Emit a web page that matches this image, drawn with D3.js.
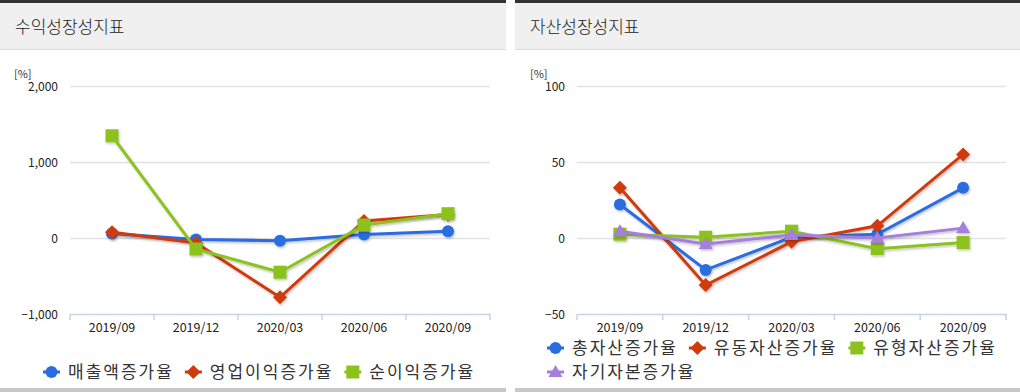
<!DOCTYPE html>
<html>
<head>
<meta charset="utf-8">
<script src="https://cdn.jsdelivr.net/npm/d3@7"></script>
<style>
	body { margin: 0; background: #fff; }
	svg { display: block; font-family: "Noto Sans CJK KR", "Noto Sans", sans-serif; }
</style>
</head>
<body>
<div id="chart"></div>
<script>
// ---- data ----
var periods = ["2019/09", "2019/12", "2020/03", "2020/06", "2020/09"];

var salesGrowth     = [60, -20, -35, 45, 90];
var opProfitGrowth  = [75, -65, -780, 225, 310];
var netProfitGrowth = [1345, -145, -450, 170, 320];
var profitTicks     = [-1000, 0, 1000, 2000];

var totalAssetGrowth    = [22, -21, 0.5, 2.5, 33];
var currentAssetGrowth  = [33, -31, -2.5, 8, 55];
var tangibleAssetGrowth = [2.5, 0.5, 4.5, -7, -3];
var equityGrowth        = [4.5, -4, 2, 0, 6.5];
var assetTicks          = [-50, 0, 50, 100];

var colors = {
	blue : "#2a6de0",
	red : "#d03b0b",
	green : "#8cc21e",
	purple : "#a47fdb"
};

var W = 1020, H = 392;
var svg = d3.select("#chart").append("svg")
	.attr("width", W)
	.attr("height", H);

var defs = svg.append("defs");
var f = defs.append("filter").attr("id", "shadow")
	.attr("x", "-10%").attr("y", "-10%").attr("width", "120%").attr("height", "130%");
f.append("feDropShadow").attr("dx", 1).attr("dy", 1.5).attr("stdDeviation", 1)
	.attr("flood-color", "#000").attr("flood-opacity", 0.25);

var drawMarker = function(g, type, x, y, color)
{
	if(type == "circle")
		g.append("circle").attr("cx", x).attr("cy", y).attr("r", 6).style("fill", color);
	else if(type == "square")
		g.append("rect").attr("x", x - 6.5).attr("y", y - 6.5).attr("width", 13).attr("height", 13).style("fill", color);
	else if(type == "diamond")
		g.append("path").attr("d", "M" + x + "," + (y - 7) + " L" + (x + 7) + "," + y + " L" + x + "," + (y + 7) + " L" + (x - 7) + "," + y + " Z").style("fill", color);
	else if(type == "triangle")
		g.append("path").attr("d", "M" + x + "," + (y - 7) + " L" + (x + 7) + "," + (y + 5) + " L" + (x - 7) + "," + (y + 5) + " Z").style("fill", color);
}

var drawPanel = function(params)
{
	var px = params.x, pw = params.width;
	var g = svg.append("g");

	// header
	g.append("rect").attr("x", px).attr("y", 0).attr("width", pw).attr("height", 3).style("fill", "#333");
	g.append("rect").attr("x", px).attr("y", 3).attr("width", pw).attr("height", 46).style("fill", "#f0f0f0");
	g.append("rect").attr("x", px).attr("y", 49).attr("width", pw).attr("height", 1).style("fill", "#dcdcdc");
	g.append("text")
		.attr("x", px + 15)
		.attr("y", 33)
		.style("font-size", "17px")
		.style("font-weight", 300)
		.style("fill", "#222")
		.text(params.title);

	// bottom bar
	g.append("rect").attr("x", px).attr("y", 388).attr("width", pw).attr("height", 4).style("fill", "#c8c8c8");

	var scaleX = d3.scaleBand().domain(periods).range([params.plotLeft, params.plotRight]).padding(0);
	var scaleY = d3.scaleLinear().domain(params.domain).range([314, 86]);

	g.append("text")
		.attr("x", px + params.unitX)
		.attr("y", 78)
		.style("font-size", "11px")
		.style("fill", "#333")
		.text("[%]");

	// grid
	g.selectAll(".grid").data(params.ticks.slice(1)).enter()
		.append("line")
		.attr("x1", params.plotLeft)
		.attr("x2", params.plotRight)
		.attr("y1", function(d){ return Math.round(scaleY(d)) + 0.5; })
		.attr("y2", function(d){ return Math.round(scaleY(d)) + 0.5; })
		.style("stroke", "#e2e2e2")
		.style("stroke-width", 1.5);

	g.selectAll(".ylabel").data(params.ticks).enter()
		.append("text")
		.attr("x", params.plotLeft - 12)
		.attr("y", function(d){ return scaleY(d) + 5; })
		.style("text-anchor", "end")
		.style("font-size", "12px")
		.style("fill", "#222")
		.text(function(d){ return d3.format(",")(d); });

	// x axis
	var axis = d3.axisBottom(scaleX).tickSize(0).tickPadding(9);
	var ax = g.append("g").attr("transform", "translate(0," + scaleY(params.domain[0]) + ")").call(axis);
	ax.select(".domain").style("stroke", "#c5d3e2").style("stroke-width", 1.5);
	ax.selectAll(".tick text")
		.style("font-family", "\"Noto Sans CJK KR\", sans-serif")
		.style("font-size", "12.5px")
		.style("fill", "#222");
	var bounds = periods.map(function(p){ return scaleX(p); }).concat([params.plotRight]);
	g.selectAll(".xtick").data(bounds).enter()
		.append("line")
		.attr("x1", function(d){ return d; })
		.attr("x2", function(d){ return d; })
		.attr("y1", scaleY(params.domain[0]))
		.attr("y2", scaleY(params.domain[0]) + 6)
		.style("stroke", "#c5d3e2")
		.style("stroke-width", 1.5);

	// series
	var line = d3.line()
		.x(function(d, i){ return scaleX(periods[i]) + scaleX.bandwidth() / 2; })
		.y(function(d){ return scaleY(d); });

	params.series.forEach(function(s){
		var sg = g.append("g").attr("filter", "url(#shadow)");
		sg.append("path")
			.attr("d", line(s.values))
			.style("fill", "none")
			.style("stroke", s.color)
			.style("stroke-width", 3);
		s.values.forEach(function(v, i){
			drawMarker(sg, s.marker, scaleX(periods[i]) + scaleX.bandwidth() / 2, scaleY(v), s.color);
		});
	});

	// legend
	var lx = px + params.legendX, ly = params.legendY;
	params.series.forEach(function(s){
		var textW = s.name.length * 17;
		if(lx + 25 + textW > px + pw - 5)
		{
			lx = px + params.legendX;
			ly += 24;
		}
		var lg = g.append("g");
		lg.append("line")
			.attr("x1", lx).attr("x2", lx + 17)
			.attr("y1", ly).attr("y2", ly)
			.style("stroke", s.color).style("stroke-width", 3);
		drawMarker(lg, s.marker, lx + 8.5, ly, s.color);
		var t = lg.append("text")
			.attr("x", lx + 25)
			.attr("y", ly + 6)
			.style("font-size", "17px")
			.style("letter-spacing", "2px")
			.style("fill", "#333")
			.text(s.name);
		lx += 25 + t.node().getComputedTextLength() + 11;
	});
}

drawPanel({
	x : 0, width : 506,
	title : "수익성장성지표",
	plotLeft : 70, plotRight : 490,
	domain : [-1000, 2000], ticks : profitTicks,
	unitX : 14,
	legendX : 43, legendY : 372,
	series : [
		{ name : "매출액증가율", values : salesGrowth, color : colors.blue, marker : "circle" },
		{ name : "영업이익증가율", values : opProfitGrowth, color : colors.red, marker : "diamond" },
		{ name : "순이익증가율", values : netProfitGrowth, color : colors.green, marker : "square" }
	]
});

drawPanel({
	x : 515, width : 505,
	title : "자산성장성지표",
	plotLeft : 577, plotRight : 1006,
	domain : [-50, 100], ticks : assetTicks,
	unitX : 15,
	legendX : 32, legendY : 348,
	series : [
		{ name : "총자산증가율", values : totalAssetGrowth, color : colors.blue, marker : "circle" },
		{ name : "유동자산증가율", values : currentAssetGrowth, color : colors.red, marker : "diamond" },
		{ name : "유형자산증가율", values : tangibleAssetGrowth, color : colors.green, marker : "square" },
		{ name : "자기자본증가율", values : equityGrowth, color : colors.purple, marker : "triangle" }
	]
});
</script>
</body>
</html>
